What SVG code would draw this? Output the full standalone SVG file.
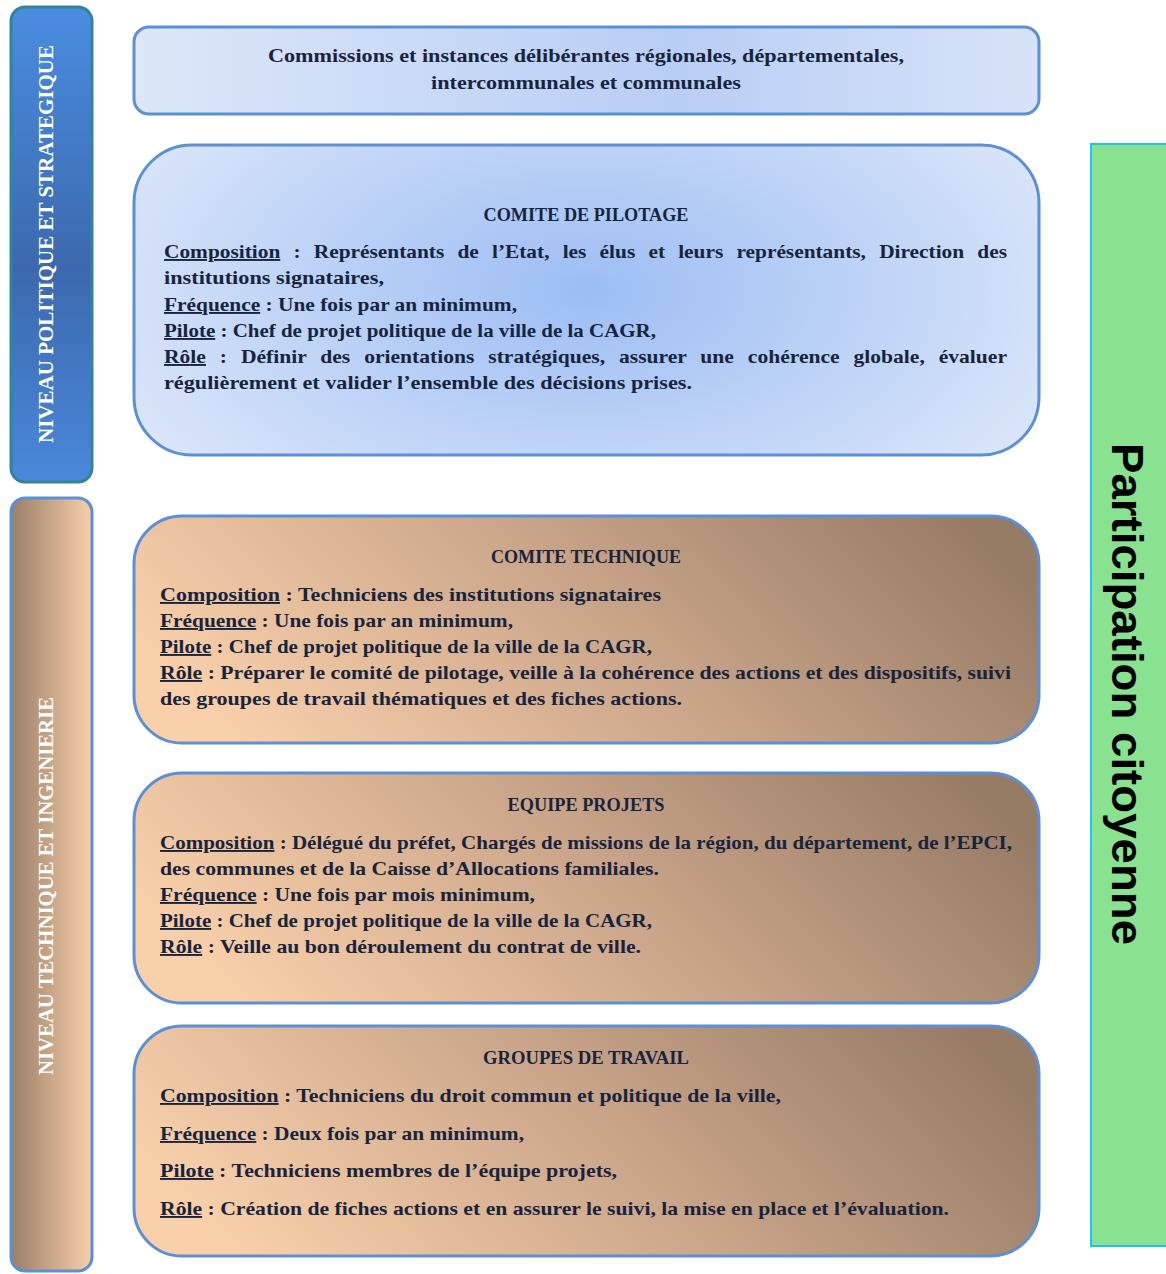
<svg xmlns="http://www.w3.org/2000/svg" width="1166" height="1274" viewBox="0 0 1166 1274">
<defs>
<linearGradient id="gSide1" x1="0" y1="0" x2="0" y2="1">
<stop offset="0" stop-color="#4a8de0"/>
<stop offset="0.55" stop-color="#3c69ae"/>
<stop offset="1" stop-color="#4a88da"/>
</linearGradient>
<linearGradient id="gSide2" x1="0" y1="0" x2="1" y2="0">
<stop offset="0" stop-color="#9a7e67"/>
<stop offset="1" stop-color="#f8cfaa"/>
</linearGradient>
<linearGradient id="gTop" x1="0" y1="0" x2="1" y2="0">
<stop offset="0" stop-color="#dde7f9"/>
<stop offset="0.6" stop-color="#b9cef5"/>
<stop offset="1" stop-color="#d8e3f8"/>
</linearGradient>
<radialGradient id="gPilot" cx="0.5" cy="0.47" r="0.62" fx="0.5" fy="0.47" gradientTransform="translate(0.5 0.47) scale(1 1.6) translate(-0.5 -0.47)">
<stop offset="0" stop-color="#9cbdf3"/>
<stop offset="1" stop-color="#e0e9fa"/>
</radialGradient>
<linearGradient id="gBrown" x1="0" y1="0.55" x2="1" y2="0.3">
<stop offset="0" stop-color="#f9d0aa"/>
<stop offset="0.5" stop-color="#cba68a"/>
<stop offset="1" stop-color="#967b65"/>
</linearGradient>
</defs>
<style>
.box{stroke:#5b8fd6;stroke-width:3}
.t{font-family:"Liberation Serif","Times New Roman",serif;font-weight:bold;font-size:19px;fill:#17243e}
.ti{font-family:"Liberation Serif","Times New Roman",serif;font-weight:bold;font-size:18px;fill:#17243e;text-anchor:middle}
.u{text-decoration:underline}
.side{font-family:"Liberation Serif","Times New Roman",serif;font-weight:bold;font-size:20px;fill:#ffffff;text-anchor:middle}
.part{font-family:"Liberation Sans",Arial,sans-serif;font-weight:bold;font-size:44px;fill:#000000;text-anchor:middle}
</style>

<g id="niveau-politique">
<rect x="11" y="7" width="81" height="475" rx="14" fill="url(#gSide1)" stroke="#31849b" stroke-width="3"/>
<text class="side" transform="translate(53 244) rotate(-90)" textLength="398" lengthAdjust="spacingAndGlyphs">NIVEAU POLITIQUE ET STRATEGIQUE</text>
</g>

<g id="niveau-technique">
<rect x="11" y="498" width="81" height="773" rx="14" fill="url(#gSide2)" stroke="#5b8fd6" stroke-width="3"/>
<text class="side" transform="translate(53 886) rotate(-90)" textLength="378" lengthAdjust="spacingAndGlyphs">NIVEAU TECHNIQUE ET INGENIERIE</text>
</g>

<g id="participation">
<rect x="1091" y="144" width="80" height="1102" fill="#88e290" stroke="#1fc3ef" stroke-width="2"/>
<text class="part" transform="translate(1112 694) rotate(90)" textLength="502" lengthAdjust="spacingAndGlyphs">Participation citoyenne</text>
</g>

<g id="commissions">
<rect x="134" y="27" width="905" height="87" rx="15" fill="url(#gTop)" class="box"/>
<text class="t" x="586" y="62" text-anchor="middle" textLength="636" lengthAdjust="spacingAndGlyphs">Commissions et instances délibérantes régionales, départementales,</text>
<text class="t" x="586" y="89" text-anchor="middle" textLength="310" lengthAdjust="spacingAndGlyphs">intercommunales et communales</text>
</g>

<g id="comite-pilotage">
<rect x="134" y="145" width="905" height="310" rx="58" fill="url(#gPilot)" class="box"/>
<text class="ti" x="586" y="221" textLength="205" lengthAdjust="spacingAndGlyphs">COMITE DE PILOTAGE</text>
<text class="t" x="164" y="258" word-spacing="7" textLength="843" lengthAdjust="spacingAndGlyphs"><tspan class="u">Composition</tspan> : Représentants de l’Etat, les élus et leurs représentants, Direction des</text>
<text class="t" x="164" y="284" textLength="220" lengthAdjust="spacingAndGlyphs">institutions signataires,</text>
<text class="t" x="164" y="311" textLength="353" lengthAdjust="spacingAndGlyphs"><tspan class="u">Fréquence</tspan> : Une fois par an minimum,</text>
<text class="t" x="164" y="337" textLength="492" lengthAdjust="spacingAndGlyphs"><tspan class="u">Pilote</tspan> : Chef de projet politique de la ville de la CAGR,</text>
<text class="t" x="164" y="363" word-spacing="7.5" textLength="843" lengthAdjust="spacingAndGlyphs"><tspan class="u">Rôle</tspan> : Définir des orientations stratégiques, assurer une cohérence globale, évaluer</text>
<text class="t" x="164" y="389" textLength="528" lengthAdjust="spacingAndGlyphs">régulièrement et valider l’ensemble des décisions prises.</text>
</g>

<g id="comite-technique">
<rect x="134" y="516" width="905" height="227" rx="48" fill="url(#gBrown)" class="box"/>
<text class="ti" x="586" y="563" textLength="190" lengthAdjust="spacingAndGlyphs">COMITE TECHNIQUE</text>
<text class="t" x="160" y="601" textLength="501" lengthAdjust="spacingAndGlyphs"><tspan class="u">Composition</tspan> : Techniciens des institutions signataires</text>
<text class="t" x="160" y="627" textLength="353" lengthAdjust="spacingAndGlyphs"><tspan class="u">Fréquence</tspan> : Une fois par an minimum,</text>
<text class="t" x="160" y="653" textLength="492" lengthAdjust="spacingAndGlyphs"><tspan class="u">Pilote</tspan> : Chef de projet politique de la ville de la CAGR,</text>
<text class="t" x="160" y="679" textLength="851" lengthAdjust="spacingAndGlyphs"><tspan class="u">Rôle</tspan> : Préparer le comité de pilotage, veille à la cohérence des actions et des dispositifs, suivi</text>
<text class="t" x="160" y="705" textLength="522" lengthAdjust="spacingAndGlyphs">des groupes de travail thématiques et des fiches actions.</text>
</g>

<g id="equipe-projets">
<rect x="134" y="773" width="905" height="230" rx="48" fill="url(#gBrown)" class="box"/>
<text class="ti" x="586" y="811" textLength="157" lengthAdjust="spacingAndGlyphs">EQUIPE PROJETS</text>
<text class="t" x="160" y="849" textLength="852" lengthAdjust="spacingAndGlyphs"><tspan class="u">Composition</tspan> : Délégué du préfet, Chargés de missions de la région, du département, de l’EPCI,</text>
<text class="t" x="160" y="875" textLength="499" lengthAdjust="spacingAndGlyphs">des communes et de la Caisse d’Allocations familiales.</text>
<text class="t" x="160" y="901" textLength="375" lengthAdjust="spacingAndGlyphs"><tspan class="u">Fréquence</tspan> : Une fois par mois minimum,</text>
<text class="t" x="160" y="927" textLength="492" lengthAdjust="spacingAndGlyphs"><tspan class="u">Pilote</tspan> : Chef de projet politique de la ville de la CAGR,</text>
<text class="t" x="160" y="953" textLength="481" lengthAdjust="spacingAndGlyphs"><tspan class="u">Rôle</tspan> : Veille au bon déroulement du contrat de ville.</text>
</g>

<g id="groupes-travail">
<rect x="134" y="1026" width="905" height="230" rx="48" fill="url(#gBrown)" class="box"/>
<text class="ti" x="586" y="1064" textLength="206" lengthAdjust="spacingAndGlyphs">GROUPES DE TRAVAIL</text>
<text class="t" x="160" y="1102" textLength="621" lengthAdjust="spacingAndGlyphs"><tspan class="u">Composition</tspan> : Techniciens du droit commun et politique de la ville,</text>
<text class="t" x="160" y="1140" textLength="364" lengthAdjust="spacingAndGlyphs"><tspan class="u">Fréquence</tspan> : Deux fois par an minimum,</text>
<text class="t" x="160" y="1177" textLength="457" lengthAdjust="spacingAndGlyphs"><tspan class="u">Pilote</tspan> : Techniciens membres de l’équipe projets,</text>
<text class="t" x="160" y="1215" textLength="789" lengthAdjust="spacingAndGlyphs"><tspan class="u">Rôle</tspan> : Création de fiches actions et en assurer le suivi, la mise en place et l’évaluation.</text>
</g>

<g id="connectors"></g>
</svg>
